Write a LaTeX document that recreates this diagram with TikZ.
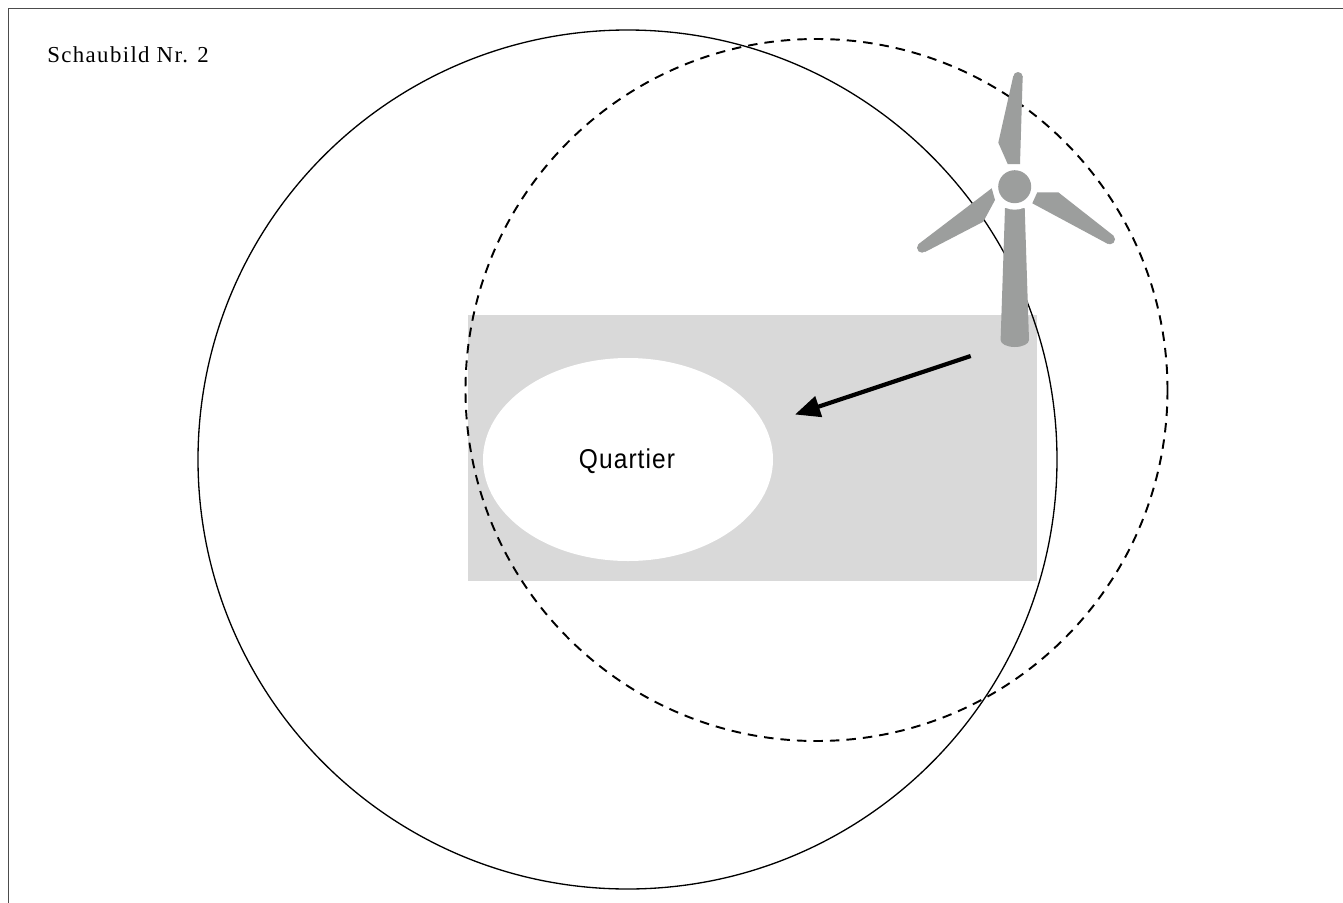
\documentclass[tikz,border=0pt]{standalone}
\usepackage{fontspec}
\setmainfont{Liberation Serif}
\newfontfamily\labelfont[FakeStretch=0.9, LetterSpace=4]{Liberation Sans}
\usetikzlibrary{arrows.meta, positioning}

\begin{document}
\begin{tikzpicture}[x=0.02cm, y=-0.02cm, turbine/.style={fill=turbinegray, draw=none}, reach/.style={draw=black, line width=0.75pt}, flow/.style={-{Triangle[length=5mm, width=4.2mm]}, line width=2.4pt}]
\definecolor{turbinegray}{HTML}{9C9E9D}
\definecolor{areagray}{HTML}{D9D9D9}
\useasboundingbox (0,0) rectangle (1343,903);
\fill[white] (0,0) rectangle (1343,903);
\draw[line width=1.1pt, black!70] (8.5,903) -- (8.5,8.5) -- (1343,8.5);
\node[anchor=base west, inner sep=0pt, font=\fontsize{13pt}{15pt}\selectfont\addfontfeatures{LetterSpace=6}] (title) at (47,62) {Schaubild Nr. 2};
% area and quarter
\fill[areagray] (468,315) rectangle (1037,581);
\fill[white] (628,459.5) ellipse [x radius=145, y radius=101.5];
\node[anchor=base, inner sep=0pt, font=\labelfont\fontsize{15.5pt}{18pt}\selectfont] (quartier) at (627,468) {Quartier};
% reach of the turbine
\draw[reach] (627.5,459.5) circle [radius=429.5];
\draw[reach, line width=1.1pt, dash pattern=on 5.4pt off 4pt] (816.5,390) circle [radius=351];
% turbine
\fill[turbine] (1005,208) -- (1024.7,208) -- (1029,340) arc [start angle=0, end angle=180, x radius=14.2, y radius=7] -- cycle;
\fill[white] (1014.7,186.7) circle [radius=23];
\fill[turbine] (1014.7,186.7) circle [radius=16.5];
\fill[turbine] (1013.3,76) -- (998.3,142.7) -- (1007.7,164) -- (1020,164) -- (1022.7,76) -- cycle;
\fill[turbine] (1018,76.7) circle [radius=4.7];
\fill[turbine] (991.7,188.3) -- (919,243.7) -- (925,252) -- (983.3,221.7) -- (995,200) -- cycle;
\fill[turbine] (922,247.7) circle [radius=5];
\fill[turbine] (1037.3,192.3) -- (1058.3,192.3) -- (1113.3,235.5) -- (1108,244) -- (1032.3,203.3) -- cycle;
\fill[turbine] (1110,239.3) circle [radius=5];
% arrow
\coordinate (start) at (970.7,356);
\coordinate (tip) at (795,414.5);
\draw[flow] (start) -- (tip);
\end{tikzpicture}
\end{document}
